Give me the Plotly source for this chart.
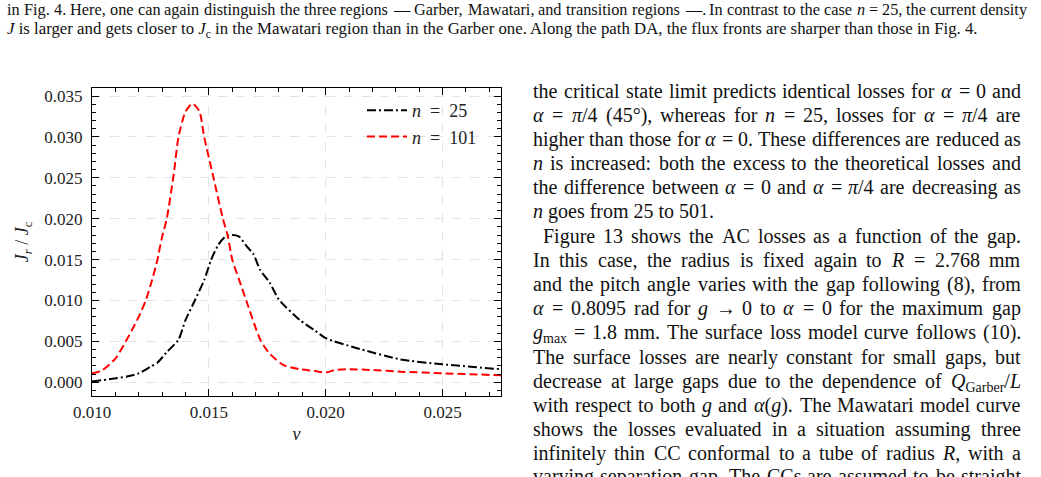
import re
import plotly.graph_objects as go

W, H = 1041, 477
ML, MR, MT, MB = 92, 540, 88, 81
PW, PH = W - ML - MR, H - MT - MB

# ---------------- data ----------------
v_n25 = [0.0100, 0.0108, 0.0115, 0.0120, 0.0125, 0.0128, 0.0132, 0.0137, 0.0140,
         0.0144, 0.0148, 0.0151, 0.0154, 0.0157, 0.0160, 0.0163, 0.0166, 0.0169,
         0.0172, 0.0176, 0.0180, 0.0189, 0.0195, 0.0200, 0.0213, 0.0232, 0.0250, 0.0275]
j_n25 = [0.0001, 0.0004, 0.0007, 0.0011, 0.0019, 0.0024, 0.0037, 0.0052, 0.0076,
         0.0100, 0.0125, 0.0150, 0.0168, 0.0178, 0.0180, 0.0178, 0.0167, 0.0157,
         0.0137, 0.0122, 0.0101, 0.0076, 0.0064, 0.0054, 0.0042, 0.0028, 0.0022, 0.0016]

v_n101 = [0.0100, 0.0104, 0.0110, 0.0116, 0.0120, 0.0123, 0.0126, 0.0128, 0.0130,
          0.0132, 0.0135, 0.0137, 0.0140, 0.0143, 0.0146, 0.0148, 0.0152, 0.0156,
          0.0158, 0.0160, 0.0163, 0.0166, 0.0172, 0.0176, 0.0182, 0.0189, 0.0195,
          0.0200, 0.0204, 0.0209, 0.0220, 0.0232, 0.0250, 0.0275]
j_n101 = [0.0011, 0.0014, 0.0029, 0.0058, 0.0080, 0.0100, 0.0128, 0.0150, 0.0178,
          0.0200, 0.0255, 0.0300, 0.0331, 0.0341, 0.0331, 0.0300, 0.0250, 0.0200,
          0.0180, 0.0150, 0.0125, 0.0100, 0.0052, 0.0035, 0.0021, 0.0016, 0.0014,
          0.0012, 0.0015, 0.0016, 0.0015, 0.0013, 0.0011, 0.00086]

series_names = ["<i>n</i>\u2002=\u200225", "<i>n</i>\u2002=\u2002101"]

x_range = [0.010, 0.0275]
y_range = [-0.001675, 0.03598]
x_tick0, x_dtick = 0.010, 0.005
y_tick0, y_dtick = 0.0, 0.005
tick_format = ".3f"

top_lines = [
    "in Fig. 4. Here, one can again distinguish the three regions \u2014 Garber, Mawatari, and transition regions \u2014. In contrast to the case <i>n</i> = 25, the current density",
    "<i>J</i> is larger and gets closer to <i>J</i><sub>c</sub> in the Mawatari region than in the Garber one. Along the path DA, the flux fronts are sharper than those in Fig. 4.",
]
col_lines = [
    "the critical state limit predicts identical losses for <i>\u03b1</i> = 0 and",
    "<i>\u03b1</i> = <i>\u03c0</i>/4 (45\u00b0), whereas for <i>n</i> = 25, losses for <i>\u03b1</i> = <i>\u03c0</i>/4 are",
    "higher than those for <i>\u03b1</i> = 0. These differences are reduced as",
    "<i>n</i> is increased: both the excess to the theoretical losses and",
    "the difference between <i>\u03b1</i> = 0 and <i>\u03b1</i> = <i>\u03c0</i>/4 are decreasing as",
    "<i>n</i> goes from 25 to 501.",
    "Figure 13 shows the AC losses as a function of the gap.",
    "In this case, the radius is fixed again to <i>R</i> = 2.768 mm",
    "and the pitch angle varies with the gap following (8), from",
    "<i>\u03b1</i> = 0.8095 rad for <i>g</i> \u2192 0 to <i>\u03b1</i> = 0 for the maximum gap",
    "<i>g</i><sub>max</sub> = 1.8 mm. The surface loss model curve follows (10).",
    "The surface losses are nearly constant for small gaps, but",
    "decrease at large gaps due to the dependence of <i>Q</i><sub>Garber</sub>/<i>L</i>",
    "with respect to both <i>g</i> and <i>\u03b1</i>(<i>g</i>). The Mawatari model curve",
    "shows the losses evaluated in a situation assuming three",
    "infinitely thin CC conformal to a tube of radius <i>R</i>, with a",
    "varying separation gap. The CCs are assumed to be straight",
]
col_last_of_paragraph = {5}

# ---------------- layout helpers ----------------
def px(xpix):
    return (xpix - ML) / PW

def py(ypix):
    return (H - MB - ypix) / PH

SERIF = "Liberation Serif"

# Times-compatible advance widths (per 1000 em)
ROMAN = dict(zip(" !\"#$%&'()*+,-./:;<=>?@[\\]",
                 [250, 333, 408, 500, 500, 833, 778, 333, 333, 333, 500, 564, 250, 333, 250, 278,
                  278, 278, 564, 564, 564, 444, 921, 333, 278, 333]))
ROMAN.update({d: 500 for d in "0123456789"})
ROMAN.update(dict(zip("ABCDEFGHIJKLMNOPQRSTUVWXYZ",
                      [722, 667, 667, 722, 611, 556, 722, 722, 333, 389, 722, 611, 889, 722, 722, 556,
                       722, 667, 556, 611, 722, 722, 944, 722, 722, 611])))
ROMAN.update(dict(zip("abcdefghijklmnopqrstuvwxyz",
                      [444, 500, 444, 500, 444, 333, 500, 500, 278, 278, 500, 278, 778, 500, 500, 500,
                       500, 333, 389, 278, 500, 500, 722, 500, 500, 444])))
ROMAN.update({"\u2014": 1080, "\u00b0": 400, "\u2192": 900, "\u03b1": 540, "\u03c0": 520})
ITALIC = dict(ROMAN)
ITALIC.update({"n": 500, "g": 500, "J": 444, "R": 611, "L": 556, "Q": 722})


def token_width(tok, size):
    w = 0.0
    ital = False
    sub = False
    for part in re.split(r"(<[^>]+>)", tok):
        if part.startswith("<"):
            tag = part.strip("<>/")
            closing = part.startswith("</")
            if tag == "i":
                ital = not closing
            elif tag == "sub":
                sub = not closing
            continue
        table = ITALIC if ital else ROMAN
        scale = 0.7 if sub else 1.0
        for ch in part:
            w += table.get(ch, 500) / 1000.0 * size * scale
    return w


def text_line(annots, line, left, right, yc, size, justify):
    half = size * 1.107 / 2
    ytop = py(yc - half)
    base = dict(xref="paper", yref="paper", yanchor="top", showarrow=False,
                borderpad=0, borderwidth=0,
                font=dict(family=SERIF, size=size, color="#111"))
    if not justify:
        annots.append(dict(base, text=line, x=px(left), xanchor="left", y=ytop))
        return
    words = line.split(" ")
    widths = [token_width(wd, size) for wd in words]
    n = len(words)
    gap = (right - left - sum(widths)) / (n - 1)
    mid = n // 2
    for k, wd in enumerate(words):
        if k < mid:
            x = left + sum(widths[:k]) + k * gap
            annots.append(dict(base, text=wd, x=px(x), xanchor="left", y=ytop))
        else:
            x = right - sum(widths[k + 1:]) - (n - 1 - k) * gap
            annots.append(dict(base, text=wd, x=px(x), xanchor="right", y=ytop))


fig = go.Figure()
fig.add_trace(go.Scatter(x=v_n25, y=j_n25, mode="lines", name=series_names[0],
                         line=dict(color="black", width=2, dash="9px,3px,2px,3px", shape="spline", smoothing=0.6)))
fig.add_trace(go.Scatter(x=v_n101, y=j_n101, mode="lines", name=series_names[1],
                         line=dict(color="#ff0000", width=2, dash="8px,4px", shape="spline", smoothing=0.6)))

axis_common = dict(
    showline=True, linecolor="black", linewidth=1.3, mirror="ticks",
    ticks="inside", ticklen=7, tickwidth=1.3, tickcolor="black",
    showgrid=True, gridcolor="#e3e3e3", griddash="dash", gridwidth=1,
    zeroline=False, tickformat=tick_format, tickmode="linear",
    tickfont=dict(family=SERIF, size=17, color="#222"),
)

fig.update_xaxes(range=x_range, tick0=x_tick0, dtick=x_dtick,
                 minor=dict(ticks="inside", dtick=0.001, tick0=0.010, ticklen=4, tickwidth=1, tickcolor="black", showgrid=False),
                 ticklabelstandoff=0,
                 title=dict(text="<i>v</i>", font=dict(family=SERIF, size=18, color="#222"), standoff=6),
                 **axis_common)
fig.update_yaxes(range=y_range, tick0=y_tick0, dtick=y_dtick,
                 minor=dict(ticks="inside", dtick=0.001, tick0=0.0, ticklen=4, tickwidth=1, tickcolor="black", showgrid=False),
                 ticklabelstandoff=5,
                 title=dict(text="<i>J<sub>r</sub></i> / <i>J</i><sub>c</sub>", font=dict(family=SERIF, size=18, color="#222"), standoff=10),
                 **axis_common)

annotations = []
text_line(annotations, top_lines[0], 7, 1028, 9, 16.3, True)
text_line(annotations, top_lines[1], 7, 1028, 28, 16.8, False)
col_y = [91, 115, 139, 163, 187, 211, 236, 260, 284, 308, 332, 357, 381, 405, 429, 453, 476]
for i, t in enumerate(col_lines):
    left = 543 if i == 6 else 533
    text_line(annotations, t, left, 1021, col_y[i], 20, i not in col_last_of_paragraph)

fig.update_layout(
    width=W, height=H,
    margin=dict(l=ML, r=MR, t=MT, b=MB, autoexpand=False),
    paper_bgcolor="white", plot_bgcolor="white",
    showlegend=True,
    legend=dict(x=px(362), y=py(92), xanchor="left", yanchor="top",
                bgcolor="rgba(255,255,255,0)", borderwidth=0,
                font=dict(family=SERIF, size=18, color="#222"), itemwidth=40),
    annotations=annotations,
)

fig.write_html("out.html")
